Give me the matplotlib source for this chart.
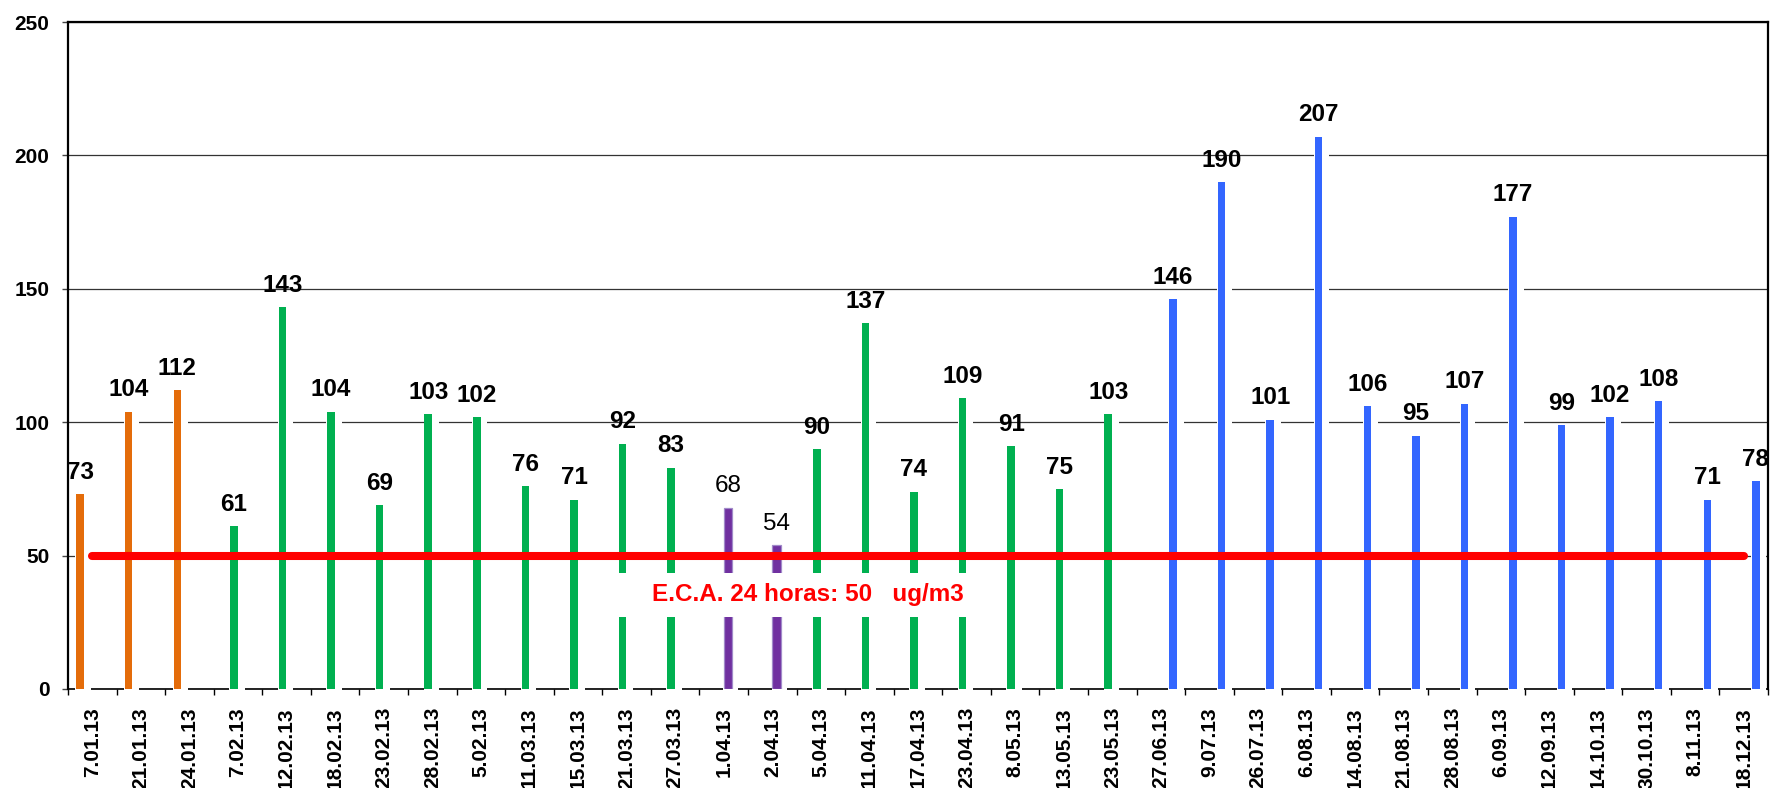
import matplotlib
matplotlib.use('Agg')
import matplotlib.pyplot as plt
from matplotlib.patches import Rectangle
import numpy as np

plt.rcParams['font.family'] = ['Liberation Sans', 'DejaVu Sans']

dates = ['7.01.13', '21.01.13', '24.01.13', '7.02.13', '12.02.13', '18.02.13',
         '23.02.13', '28.02.13', '5.02.13', '11.03.13', '15.03.13', '21.03.13',
         '27.03.13', '1.04.13', '2.04.13', '5.04.13', '11.04.13', '17.04.13',
         '23.04.13', '8.05.13', '13.05.13', '23.05.13', '27.06.13', '9.07.13',
         '26.07.13', '6.08.13', '14.08.13', '21.08.13', '28.08.13', '6.09.13',
         '12.09.13', '14.10.13', '30.10.13', '8.11.13', '18.12.13']
values = [73, 104, 112, 61, 143, 104, 69, 103, 102, 76, 71, 92, 83, 68, 54,
          90, 137, 74, 109, 91, 75, 103, 146, 190, 101, 207, 106, 95, 107,
          177, 99, 102, 108, 71, 78]
groups = (['orange'] * 3 + ['green'] * 10 + ['purple'] * 2 + ['green'] * 7
          + ['blue'] * 13)
limit_value = 50
limit_label = 'E.C.A. 24 horas: 50   ug/m3'
yticks = [0, 50, 100, 150, 200, 250]

series_order = ['orange', 'green', 'purple', 'blue']
colors = {'orange': '#E46C0A', 'green': '#00B050', 'purple': '#7030A0',
          'blue': '#3366FF'}

W, H = 1771, 788
fig = plt.figure(figsize=(W / 100, H / 100), dpi=100)
ax = fig.add_axes([68 / W, 1 - 689 / H, 1700 / W, (689 - 22) / H])

slot_w = 1 / 6.0
bar_w = 0.155
x = np.arange(len(dates))

for i, (v, g) in enumerate(zip(values, groups)):
    k = series_order.index(g)
    xc = x[i] + (k - 1.5) * slot_w
    # white gap behind bar (cuts gridlines / baseline like the source)
    ax.bar(xc - bar_w / 2 - 0.02, v + 1.0, width=bar_w + 0.16, bottom=-1.0,
           align='edge', color='white', zorder=2.7, clip_on=False, linewidth=0)
    if g == 'purple':
        ax.bar(xc, v, width=bar_w + 0.02, color=colors[g], edgecolor='#A18BC9',
               linewidth=0.9, zorder=3)
    else:
        ax.bar(xc, v, width=bar_w, color=colors[g], linewidth=0, zorder=3)
    ax.annotate(str(v), (xc, v), xytext=(0, 11), textcoords='offset points',
                ha='center', va='baseline', fontsize=17.5,
                fontweight='normal' if g == 'purple' else 'bold',
                color='black', zorder=6, annotation_clip=False)

# limit line
ax.plot([x[0], x[-1]], [limit_value, limit_value], color='#FF0000', lw=5.8,
        solid_capstyle='round', zorder=4)
ax.add_patch(Rectangle((10.65, 27), 7.95, 16.5, facecolor='white',
                       edgecolor='none', zorder=4.5))
ax.text(14.74, 35.5, limit_label, color='#FF0000', fontsize=17.5,
        fontweight='bold', ha='center', va='center', zorder=5)

ax.set_xlim(-0.5, len(dates) - 0.5)
ax.set_ylim(0, 250)
ax.set_yticks(yticks)
ax.set_yticklabels([str(t) for t in yticks], fontsize=15, fontweight='bold')
ax.tick_params(axis='y', length=4.3, width=1.0, pad=9, color='#444444')

ax.set_xticks(x)
ax.set_xticklabels(dates, rotation=90, fontsize=15, fontweight='bold')
ax.set_xticks(np.arange(-0.5, len(dates), 1.0), minor=True)
ax.tick_params(axis='x', which='major', length=0, pad=13)
ax.tick_params(axis='x', which='minor', length=4, width=1.0, direction='out')

ax.yaxis.grid(True, color='#333333', linewidth=0.9, zorder=0.5)
ax.set_axisbelow(True)

for side in ['left', 'top', 'right']:
    ax.spines[side].set_linewidth(1.6)
    ax.spines[side].set_color('black')
    ax.spines[side].set_zorder(5)
ax.spines['bottom'].set_linewidth(1.2)
ax.spines['bottom'].set_color('black')
ax.spines['bottom'].set_zorder(2.5)

fig.savefig('out.png', dpi=100)
